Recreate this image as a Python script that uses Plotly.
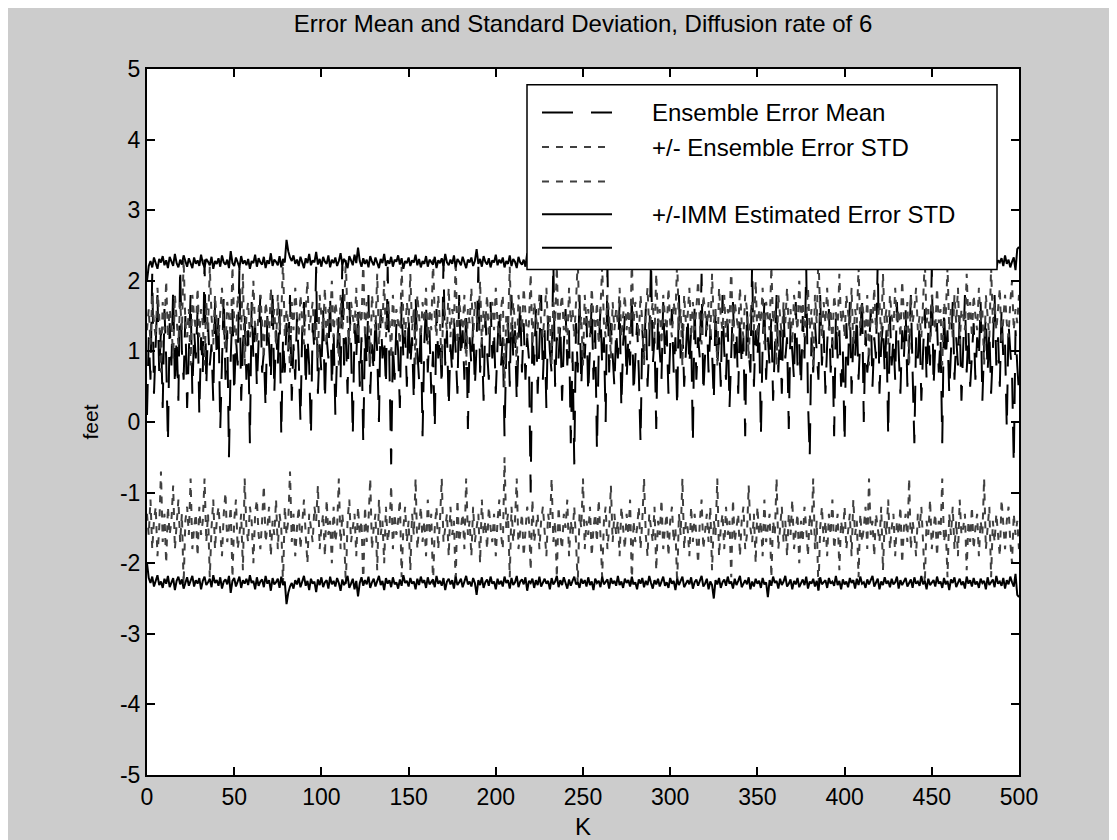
import plotly.graph_objects as go

# ---------------- data ----------------
mean_err = [
    0.1, 1.2, 0.6, 2.1, 0.4, 1.1, 1.8, 0.7, 1.3, 0.2, 1.6, 0.9, -0.3, 1.4, 0.8, 1.9, 0.5, 1.2, 0.3, 2.2, 1.0, 0.6, 1.5, 0.2, 1.1,
    1.8, 0.4, 1.3, 0.9, 1.6, 0.1, 1.2, 0.7, 2.3, 0.5, 1.4, 0.8, 1.1, 0.3, 1.7, 0.9, 1.5, -0.1, 1.0, 1.8, 0.6, 1.3, -0.5, 0.9, 1.6,
    0.4, 1.2, 0.8, 2.2, 0.3, 1.1, 1.5, 0.6, 1.3, -0.3, 1.7, 0.9, 1.4, 0.5, 1.2, 1.8, 0.7, 1.0, 0.2, 1.5, 1.1, 0.6, 1.9, 0.4, 1.3,
    0.8, 1.6, -0.2, 1.2, 0.7, 1.4, 1.0, 1.8, 0.3, 1.1, 0.6, 1.5, 0.9, 0.0, 1.3, 1.7, 0.5, 1.2, 0.8, -0.2, 1.4, 1.0, 2.2, 0.4, 1.1,
    0.7, 1.6, 0.3, 1.2, 0.9, 1.8, 0.5, 1.3, 0.1, 1.0, 1.5, 0.6, 2.3, 0.8, 1.2, 0.4, 1.7, 1.1, -0.2, 1.4, 0.9, 1.6, 0.5, 1.2, -0.3,
    1.3, 0.8, 1.8, 0.4, 1.1, 0.7, 1.5, 1.0, 0.0, 1.6, 0.9, 1.2, 0.5, 2.2, 0.8, -0.6, 1.1, 0.6, 1.4, 1.0, 0.2, 1.7, 0.9, 1.3, 0.5,
    1.5, 0.8, 1.2, 0.3, 1.8, 1.0, 0.6, 1.4, -0.2, 1.1, 1.7, 0.7, 1.3, 0.4, 1.0, -0.1, 1.6, 0.9, 1.2, 0.5, 2.3, 0.8, 1.3, 0.2, 1.1,
    0.7, 1.5, 1.0, 0.4, 1.8, 0.9, 1.3, 0.6, 1.6, -0.1, 1.2, 0.8, 1.4, 0.5, 1.1, 2.2, 0.7, 1.2, 0.3, 1.5, 1.0, 0.6, 1.7, 0.9, 1.3,
    0.4, 1.1, 1.6, 0.8, 1.2, -0.2, 1.0, 1.5, 0.5, 1.8, 0.9, 1.3, 0.3, 1.1, 1.7, 0.7, 1.4, 0.6, 1.2, 0.9, -1.0, 1.3, 0.8, 1.6, 0.4,
    1.1, 1.8, 0.6, 1.3, 0.2, 1.5, 1.0, 0.7, 2.3, 0.5, 1.2, 0.9, 1.4, 0.3, 1.1, 1.6, 0.8, 1.3, -0.3, 1.0, -0.6, 1.4, 0.7, 1.8, 0.5,
    1.2, 0.9, 1.5, 0.4, 1.1, 1.7, 0.6, 1.3, -0.4, 1.0, 1.6, 0.8, 1.2, 0.0, 2.2, 0.7, 1.4, 1.0, 0.5, 1.3, 0.9, 1.7, 0.2, 1.1, 1.5,
    0.6, 1.2, 0.8, 1.8, 0.4, 1.0, 1.4, 0.7, -0.3, 1.3, 0.9, 1.6, 0.5, 1.1, 2.3, 0.8, 1.2, -0.1, 1.5, 1.0, 0.6, 1.7, 0.9, 1.3, 0.4,
    1.1, 1.6, 0.7, 1.2, 0.2, 1.8, 0.9, 1.4, 0.5, 1.0, 1.5, 0.8, 1.3, -0.3, 1.7, 0.6, 1.2, 0.9, 2.1, 0.4, 1.1, 1.5, 0.7, 1.3, 1.0,
    0.3, 1.6, 0.8, 1.2, 0.5, 1.8, 1.0, 0.6, 1.4, 0.2, 1.1, 1.7, 0.9, 1.3, 0.4, 1.5, 0.8, 1.2, -0.2, 1.6, 1.0, 0.7, 2.3, 0.5, 1.3,
    0.9, 1.4, -0.2, 1.1, 1.7, 0.6, 1.2, 0.8, 1.5, 0.3, 1.0, 1.8, 0.7, 1.3, 0.4, 1.6, 0.9, 1.2, -0.1, 1.4, 1.0, 0.6, 1.7, 0.8, 1.1,
    0.5, 1.5, 0.9, 2.2, 0.3, -0.5, 1.2, 0.7, 1.4, 1.0, 0.6, 1.8, 0.8, 1.3, 0.4, 1.1, 1.6, 0.7, 1.2, -0.2, 1.5, 0.9, 1.3, 0.5, 1.0,
    -0.3, 1.4, 0.8, 1.7, 0.4, 1.2, 0.9, 1.5, 0.6, 1.1, 1.8, 0.0, 1.3, 0.7, 1.0, 1.6, 0.5, 1.2, 0.9, 2.3, 0.4, 1.1, 1.4, 0.7, 1.3,
    -0.2, 1.5, 0.8, 1.2, 0.6, 1.7, 1.0, 0.4, 1.3, 0.9, 1.6, 0.5, 1.1, 1.8, 0.7, -0.3, 1.2, 0.9, 1.4, 0.3, 1.0, 1.6, 0.6, 1.3, 0.8,
    2.2, 0.5, 1.1, 1.4, 0.7, 1.2, -0.3, 1.6, 0.9, 1.3, 0.4, 1.0, 1.7, 0.6, 1.2, 0.8, 1.5, 0.3, 1.1, 1.8, 0.7, 1.3, 0.5, 1.0, 1.4,
    0.6, 1.2, 0.9, 1.7, 0.3, 1.1, 1.5, 0.7, 1.3, 0.4, 1.0, 1.8, 0.8, 1.2, 0.5, 1.6, 0.9, 1.1, -0.1, 1.4, 1.0, 0.7, -0.6, 1.3, 0.8,
    0.4,
]

ens_std = [
    1.3, 1.6, 1.1, 1.8, 1.4, 1.2, 1.9, 1.5, 0.7, 1.7, 1.3, 2.0, 1.2, 1.6, 1.4, 0.9, 1.8, 1.5, 1.1, 1.7, 1.3, 2.3, 1.4, 1.2, 1.6,
    0.8, 1.8, 1.5, 1.3, 1.9, 1.2, 1.6, 1.4, 0.8, 1.7, 1.3, 2.2, 1.5, 1.1, 1.8, 1.4, 1.2, 1.6, 1.9, 1.3, 1.0, 1.7, 1.5, 1.2, 2.2,
    1.4, 1.1, 1.8, 1.6, 1.3, 2.1, 0.8, 1.5, 1.7, 1.2, 1.4, 2.0, 1.3, 1.1, 1.6, 1.8, 1.4, 0.9, 1.7, 1.5, 1.2, 1.9, 1.4, 1.6, 1.1,
    1.8, 1.3, 1.5, 2.3, 1.2, 1.6, 1.4, 0.7, 1.7, 1.3, 1.9, 1.5, 1.2, 1.8, 1.4, 1.1, 1.6, 2.0, 1.3, 1.5, 1.7, 1.2, 1.4, 0.9, 1.8,
    1.5, 1.3, 1.9, 1.1, 1.6, 1.4, 2.0, 1.2, 1.7, 1.5, 0.8, 1.8, 1.3, 1.6, 2.3, 1.4, 1.1, 1.7, 1.5, 1.3, 1.9, 1.2, 1.6, 1.4, 2.3,
    1.2, 1.7, 1.4, 0.8, 1.8, 1.5, 1.3, 2.1, 1.1, 1.6, 1.4, 2.0, 1.2, 1.7, 1.5, 0.9, 1.8, 1.3, 1.6, 1.4, 1.1, 2.2, 1.5, 1.2, 1.7,
    1.4, 2.1, 1.3, 1.6, 0.8, 1.8, 1.5, 1.2, 1.7, 1.4, 1.9, 1.1, 1.6, 1.3, 2.3, 1.5, 1.2, 1.8, 1.4, 0.8, 1.7, 1.5, 1.3, 1.9, 1.2,
    1.6, 1.4, 2.3, 1.1, 1.7, 1.5, 1.3, 1.8, 0.8, 1.6, 1.4, 1.9, 1.2, 1.7, 1.5, 1.3, 2.0, 1.1, 1.6, 1.4, 1.8, 1.2, 1.5, 1.7, 1.3,
    1.9, 1.4, 1.1, 1.6, 1.8, 0.5, 1.5, 1.3, 2.2, 1.2, 1.7, 1.4, 0.8, 1.8, 1.5, 1.3, 1.9, 1.6, 1.2, 1.4, 2.1, 1.1, 1.7, 1.5, 1.3,
    1.8, 1.4, 1.2, 1.6, 1.9, 1.3, 1.5, 0.8, 1.7, 1.4, 2.2, 1.2, 1.6, 1.8, 1.3, 1.5, 1.1, 1.9, 1.4, 1.6, 1.2, 1.7, 2.3, 1.3, 1.5,
    0.8, 1.8, 1.4, 1.6, 1.2, 1.9, 1.5, 1.3, 1.7, 1.1, 1.6, 2.2, 1.4, 1.2, 1.8, 1.5, 0.9, 1.7, 1.3, 1.6, 1.4, 1.9, 1.2, 1.5, 1.8,
    1.3, 1.6, 1.1, 2.3, 1.4, 1.7, 1.5, 1.2, 1.8, 1.4, 0.8, 1.6, 1.9, 1.3, 1.5, 1.7, 1.2, 2.1, 1.4, 1.6, 1.1, 1.8, 1.5, 1.3, 1.9,
    1.4, 1.2, 1.7, 1.5, 2.3, 1.3, 1.6, 0.8, 1.8, 1.4, 1.5, 1.9, 1.2, 1.7, 1.3, 1.6, 2.0, 1.4, 1.1, 1.8, 1.5, 1.3, 1.7, 1.2, 2.1,
    1.4, 1.6, 0.8, 1.9, 1.5, 1.3, 1.8, 1.2, 1.6, 1.4, 2.2, 1.1, 1.7, 1.5, 1.3, 1.9, 1.4, 1.2, 1.8, 1.6, 0.9, 1.5, 1.7, 1.3, 2.0,
    1.2, 1.6, 1.4, 1.9, 1.1, 1.7, 1.5, 1.3, 2.2, 1.4, 1.6, 0.8, 1.8, 1.5, 1.2, 1.7, 1.4, 1.9, 1.3, 1.6, 1.1, 1.8, 1.5, 1.3, 2.0,
    1.4, 1.7, 1.2, 1.5, 1.9, 1.3, 1.6, 0.8, 1.8, 1.4, 2.4, 1.5, 1.2, 1.7, 1.4, 1.9, 1.3, 1.6, 1.1, 1.8, 1.5, 1.3, 2.1, 1.4, 1.6,
    1.2, 1.8, 1.5, 1.3, 1.9, 1.1, 1.6, 1.4, 2.2, 1.3, 1.7, 1.5, 1.2, 1.8, 0.8, 1.6, 1.4, 1.9, 1.3, 1.5, 1.7, 1.2, 2.1, 1.4, 1.6,
    1.1, 1.8, 1.5, 1.3, 1.9, 1.4, 1.6, 1.2, 2.0, 1.5, 1.3, 1.7, 0.8, 1.8, 1.4, 1.6, 1.9, 1.3, 1.5, 1.2, 1.7, 2.3, 1.4, 1.6, 1.1,
    1.8, 1.5, 1.3, 1.9, 1.4, 1.6, 0.8, 1.7, 1.5, 2.2, 1.3, 1.6, 1.2, 1.8, 1.4, 1.9, 1.1, 1.6, 1.5, 1.3, 2.1, 1.4, 1.7, 1.2, 1.8,
    1.5, 1.3, 1.9, 1.4, 1.6, 0.8, 1.8, 1.5, 1.2, 2.2, 1.4, 1.7, 1.3, 1.6, 1.9, 1.1, 1.5, 1.8, 1.4, 1.2, 1.7, 2.0, 1.3, 1.6, 1.4,
    1.8,
]

imm_std = [
    2.00, 2.21, 2.28, 2.19, 2.33, 2.24, 2.17, 2.31, 2.26, 2.35, 2.22, 2.29, 2.18, 2.34, 2.27, 2.21, 2.38, 2.25, 2.19, 2.30, 2.23, 2.36, 2.28, 2.20, 2.32,
    2.26, 2.18, 2.33, 2.24, 2.29, 2.21, 2.37, 2.25, 2.19, 2.31, 2.27, 2.22, 2.34, 2.17, 2.28, 2.24, 2.32, 2.20, 2.36, 2.26, 2.23, 2.30, 2.18, 2.42, 2.25,
    2.21, 2.33, 2.27, 2.19, 2.35, 2.24, 2.29, 2.22, 2.31, 2.17, 2.28, 2.25, 2.37, 2.20, 2.32, 2.26, 2.23, 2.34, 2.18, 2.29, 2.24, 2.39, 2.21, 2.30, 2.27,
    2.22, 2.35, 2.19, 2.31, 2.26, 2.58, 2.42, 2.33, 2.28, 2.36, 2.24, 2.30, 2.21, 2.34, 2.27, 2.18, 2.32, 2.25, 2.38, 2.22, 2.29, 2.26, 2.41, 2.23, 2.31,
    2.20, 2.34, 2.27, 2.24, 2.36, 2.19, 2.30, 2.25, 2.33, 2.21, 2.28, 2.39, 2.23, 2.31, 2.26, 2.18, 2.35, 2.29, 2.22, 2.37, 2.25, 2.47, 2.28, 2.20, 2.32,
    2.24, 2.30, 2.19, 2.35, 2.27, 2.22, 2.33, 2.26, 2.18, 2.31, 2.25, 2.38, 2.21, 2.29, 2.24, 2.34, 2.20, 2.30, 2.27, 2.36, 2.23, 2.32, 2.17, 2.28, 2.25,
    2.33, 2.21, 2.29, 2.26, 2.37, 2.22, 2.31, 2.19, 2.28, 2.24, 2.35, 2.20, 2.30, 2.27, 2.23, 2.34, 2.18, 2.29, 2.25, 2.32, 2.21, 2.38, 2.26, 2.22, 2.30,
    2.24, 2.36, 2.19, 2.31, 2.27, 2.22, 2.34, 2.25, 2.18, 2.30, 2.26, 2.33, 2.21, 2.28, 2.45, 2.24, 2.31, 2.20, 2.35, 2.27, 2.23, 2.32, 2.19, 2.29, 2.26,
    2.37, 2.22, 2.30, 2.25, 2.33, 2.19, 2.28, 2.24, 2.36, 2.21, 2.31, 2.27, 2.18, 2.34, 2.26, 2.23, 2.30, 2.20, 2.39, 2.25, 2.28, 2.22, 2.35, 2.24, 2.31,
    2.19, 2.33, 2.27, 2.22, 2.29, 2.25, 2.37, 2.21, 2.30, 2.26, 2.18, 2.34, 2.24, 2.31, 2.20, 2.28, 2.36, 2.23, 2.32, 2.25, 2.19, 2.30, 2.27, 2.35, 2.22,
    2.29, 2.24, 2.33, 2.20, 2.31, 2.26, 2.38, 2.22, 2.28, 2.25, 2.34, 2.19, 2.30, 2.27, 2.23, 2.36, 2.21, 2.29, 2.25, 2.32, 2.18, 2.31, 2.26, 2.35, 2.22,
    2.28, 2.24, 2.33, 2.19, 2.30, 2.27, 2.37, 2.23, 2.29, 2.21, 2.34, 2.25, 2.31, 2.18, 2.28, 2.36, 2.24, 2.30, 2.22, 2.33, 2.26, 2.19, 2.32, 2.27, 2.35,
    2.21, 2.29, 2.25, 2.38, 2.22, 2.31, 2.26, 2.19, 2.34, 2.28, 2.24, 2.30, 2.20, 2.36, 2.27, 2.23, 2.32, 2.25, 2.18, 2.33, 2.29, 2.22, 2.37, 2.26, 2.31,
    2.50, 2.24, 2.30, 2.21, 2.35, 2.27, 2.23, 2.32, 2.19, 2.29, 2.26, 2.36, 2.22, 2.31, 2.25, 2.18, 2.34, 2.28, 2.24, 2.30, 2.20, 2.37, 2.26, 2.33, 2.22,
    2.29, 2.25, 2.35, 2.21, 2.30, 2.27, 2.48, 2.24, 2.32, 2.19, 2.28, 2.25, 2.36, 2.22, 2.31, 2.26, 2.18, 2.33, 2.29, 2.23, 2.37, 2.25, 2.30, 2.21, 2.34,
    2.27, 2.23, 2.31, 2.19, 2.36, 2.26, 2.29, 2.22, 2.33, 2.25, 2.38, 2.20, 2.30, 2.27, 2.24, 2.35, 2.21, 2.29, 2.26, 2.32, 2.18, 2.31, 2.25, 2.37, 2.23,
    2.30, 2.26, 2.34, 2.21, 2.28, 2.24, 2.36, 2.22, 2.31, 2.19, 2.29, 2.27, 2.35, 2.23, 2.30, 2.25, 2.18, 2.33, 2.28, 2.22, 2.37, 2.26, 2.31, 2.20, 2.29,
    2.25, 2.34, 2.22, 2.30, 2.27, 2.19, 2.36, 2.24, 2.31, 2.26, 2.21, 2.33, 2.28, 2.23, 2.35, 2.20, 2.29, 2.26, 2.32, 2.18, 2.30, 2.25, 2.37, 2.22, 2.31,
    2.27, 2.24, 2.33, 2.19, 2.29, 2.26, 2.35, 2.21, 2.30, 2.25, 2.38, 2.23, 2.28, 2.20, 2.34, 2.27, 2.22, 2.31, 2.26, 2.36, 2.19, 2.29, 2.24, 2.33, 2.21,
    2.30, 2.26, 2.35, 2.22, 2.28, 2.25, 2.37, 2.20, 2.31, 2.27, 2.23, 2.34, 2.18, 2.29, 2.26, 2.32, 2.21, 2.36, 2.24, 2.30, 2.19, 2.27, 2.33, 2.15, 2.45,
    2.48,
]

assert len(mean_err) == len(ens_std) == len(imm_std) == 501, (len(mean_err), len(ens_std), len(imm_std))

K = list(range(len(mean_err)))
x_ticks = [0, 50, 100, 150, 200, 250, 300, 350, 400, 450, 500]
y_ticks = [-5, -4, -3, -2, -1, 0, 1, 2, 3, 4, 5]

title_text = "Error Mean and Standard Deviation, Diffusion rate of 6"
legend_labels = ["Ensemble Error Mean", "+/- Ensemble Error STD", "", "+/-IMM Estimated Error STD", ""]

# ---------------- styles ----------------
FONT = "Liberation Sans, Arial, Helvetica, sans-serif"
BG = "#cccccc"
mean_style = dict(color="black", width=2, dash="31px,18px")
ens_style = dict(color="#404040", width=2, dash="7px,7px")
imm_style = dict(color="black", width=2)

W, H = 1117, 840
L, R, T, B = 139, 106, 61, 64

fig = go.Figure()
fig.add_trace(go.Scatter(x=K, y=mean_err, mode="lines", name=legend_labels[0], line=mean_style))
fig.add_trace(go.Scatter(x=K, y=ens_std, mode="lines", name=legend_labels[1], line=ens_style))
fig.add_trace(go.Scatter(x=K, y=[-v for v in ens_std], mode="lines", name="-Ensemble Error STD", line=ens_style))
fig.add_trace(go.Scatter(x=K, y=imm_std, mode="lines", name=legend_labels[3], line=imm_style))
fig.add_trace(go.Scatter(x=K, y=[-v for v in imm_std], mode="lines", name="-IMM Estimated Error STD", line=imm_style))

# ---------------- manual MATLAB-style legend box ----------------
pw, ph = W - L - R, H - T - B
def px(xp):
    return (xp - L) / pw
def py(yp):
    return (H - B - yp) / ph

shapes = [dict(type="rect", xref="paper", yref="paper", x0=px(519), x1=px(989), y0=py(264), y1=py(77),
               fillcolor="white", line=dict(color="black", width=1.5), layer="above")]
annotations = []
row_y = [105, 140, 175, 208, 242]
row_styles = [mean_style, ens_style, ens_style, imm_style, imm_style]
for yy, st, lab in zip(row_y, row_styles, legend_labels):
    shapes.append(dict(type="line", xref="paper", yref="paper", x0=px(534), x1=px(604), y0=py(yy), y1=py(yy),
                       line=st, layer="above"))
    if lab:
        annotations.append(dict(text=lab, xref="paper", yref="paper", x=px(642), y=py(yy), xanchor="left",
                                yanchor="middle", showarrow=False, font=dict(family=FONT, size=24, color="black")))

axis_common = dict(showline=True, linecolor="black", linewidth=2, mirror="ticks", ticks="inside",
                   ticklen=8, tickwidth=1.5, tickcolor="black", showgrid=False, zeroline=False,
                   tickfont=dict(family=FONT, size=23, color="black"))

fig.update_layout(
    width=W, height=H,
    margin=dict(l=L, r=R, t=T, b=B),
    paper_bgcolor=BG, plot_bgcolor="white",
    showlegend=False,
    title=dict(text=title_text, x=0.5, xref="paper", xanchor="center", y=1 - 16 / H, yref="container",
               yanchor="middle", font=dict(family=FONT, size=24, color="black")),
    xaxis=dict(range=[0, 500], tickvals=x_ticks, ticktext=[str(v) for v in x_ticks],
               title=dict(text="K", standoff=10, font=dict(family=FONT, size=24, color="black")), **axis_common),
    yaxis=dict(range=[-5, 5], tickvals=y_ticks, ticktext=[str(v) for v in y_ticks],
               title=dict(text="feet", standoff=16, font=dict(family=FONT, size=21, color="black")), **axis_common),
    shapes=shapes,
    annotations=annotations,
)

fig.write_html("out.html")
